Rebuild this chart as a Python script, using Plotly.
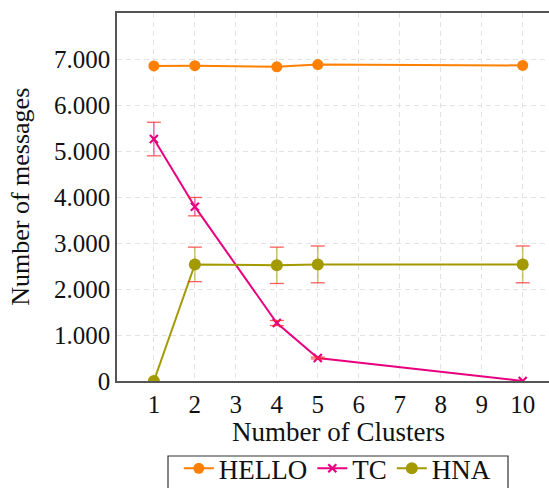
import plotly.graph_objects as go

# ---- data ----
clusters = [1, 2, 4, 5, 10]
hello = [6850, 6855, 6830, 6880, 6860]
tc = [5260, 3790, 1260, 500, 0]
tc_err = [365, 200, 55, 20, 0]
hna = [0, 2535, 2515, 2535, 2535]
hna_err = [0, 375, 395, 400, 400]

x_ticks = [1, 2, 3, 4, 5, 6, 7, 8, 9, 10]
y_ticks = [0, 1000, 2000, 3000, 4000, 5000, 6000, 7000]
y_tick_labels = ["0", "1.000", "2.000", "3.000", "4.000", "5.000", "6.000", "7.000"]

ORANGE = "#ff8000"
MAGENTA = "#e8007f"
OLIVE = "#a39a00"
CAP = "rgba(255,40,40,0.75)"
FONT = "Liberation Serif, Times New Roman, serif"
TXT = "#111"

fig = go.Figure()


def cap_trace(xs, ys, errs):
    cx, cy = [], []
    for x, y, e in zip(xs, ys, errs):
        if e > 0:
            cx += [x, x]
            cy += [y + e, y - e]
    return go.Scatter(x=cx, y=cy, mode="markers", showlegend=False, hoverinfo="skip",
                      marker=dict(symbol="line-ew", size=10,
                                  line=dict(color=CAP, width=1.3)))


fig.add_trace(go.Scatter(
    x=clusters, y=hello, name="HELLO", mode="lines+markers",
    line=dict(color=ORANGE, width=2),
    marker=dict(symbol="circle", size=11, color=ORANGE)))

fig.add_trace(go.Scatter(
    x=clusters, y=tc, name="TC", mode="lines+markers",
    line=dict(color=MAGENTA, width=2),
    marker=dict(symbol="x-thin", size=8, line=dict(color=MAGENTA, width=2.2)),
    error_y=dict(type="data", array=tc_err, visible=True, width=0,
                 thickness=1.6, color="rgba(232,0,127,0.55)")))
fig.add_trace(cap_trace(clusters, tc, tc_err))

fig.add_trace(go.Scatter(
    x=clusters, y=hna, name="HNA", mode="lines+markers",
    line=dict(color=OLIVE, width=2),
    marker=dict(symbol="circle", size=12, color=OLIVE),
    error_y=dict(type="data", array=hna_err, visible=True, width=0,
                 thickness=1.6, color="rgba(163,154,0,0.55)")))
fig.add_trace(cap_trace(clusters, hna, hna_err))

grid = dict(showgrid=True, gridcolor="#e2e2e2", gridwidth=1, griddash="5px,4px")

# plot area: x 117..549, y 13..381 (368 px tall)
fig.update_layout(
    width=549, height=488,
    margin=dict(l=117, r=0, t=13, b=107, autoexpand=False),
    paper_bgcolor="white", plot_bgcolor="white",
    font=dict(family=FONT, size=25, color=TXT),
    showlegend=True,
    legend=dict(orientation="h", x=0.51, xanchor="center", y=-0.172, yanchor="top",
                borderwidth=0, bgcolor="rgba(0,0,0,0)",
                font=dict(family=FONT, size=27, color=TXT),
                itemwidth=30, tracegroupgap=0),
    shapes=[dict(type="rect", xref="paper", yref="paper",
                 x0=(168 - 117) / 432, x1=(508 - 117) / 432,
                 y0=-(456 - 381) / 368, y1=-(500 - 381) / 368,
                 line=dict(color="#333", width=1.2), fillcolor="rgba(0,0,0,0)",
                 layer="above")],
    xaxis=dict(range=[0.1, 10.642], tickvals=x_ticks, ticks="", showline=True,
               linecolor="#555", linewidth=1.5, mirror=True, zeroline=False,
               automargin=False, tickfont=dict(family=FONT, size=25, color=TXT), **grid),
    yaxis=dict(range=[0, 8000], tickvals=y_ticks, ticktext=y_tick_labels, ticks="",
               showline=True, linecolor="#555", linewidth=1.5, zeroline=False,
               automargin=False, tickfont=dict(family=FONT, size=25, color=TXT), **grid),
    annotations=[
        dict(text="Number of Clusters", xref="paper", yref="paper",
             x=0.512, y=-0.138, xanchor="center", yanchor="middle", showarrow=False,
             font=dict(family=FONT, size=27, color=TXT)),
        dict(text="Number of messages", xref="paper", yref="paper",
             x=-0.225, y=0.5, xanchor="center", yanchor="middle", showarrow=False,
             textangle=-90, font=dict(family=FONT, size=26, color=TXT)),
    ],
)

fig.write_html("out.html", config={"displayModeBar": False},
               post_script="document.body.style.margin='0';document.body.style.padding='0';")
